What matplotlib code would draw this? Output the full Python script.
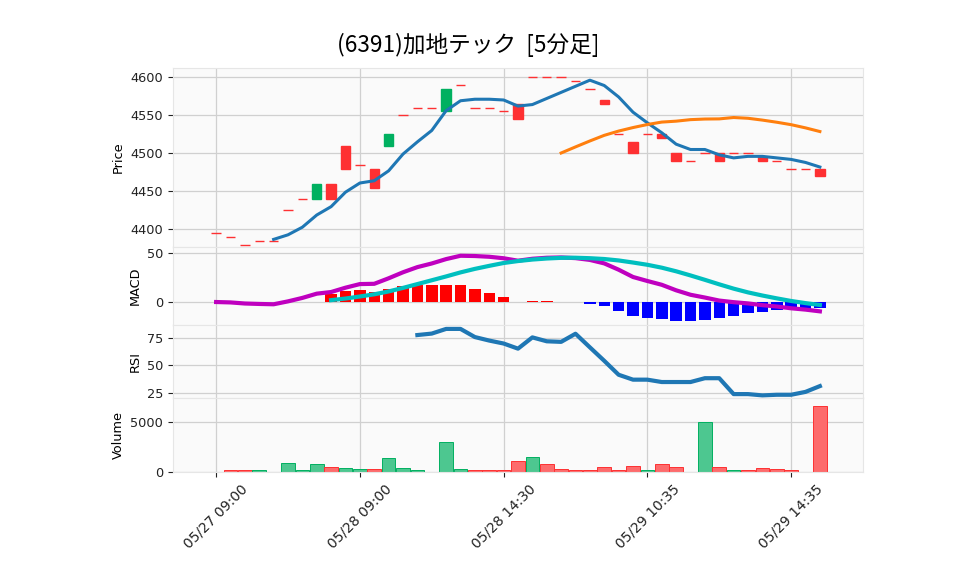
import matplotlib
matplotlib.use("Agg")
import matplotlib.pyplot as plt
import numpy as np
import pandas as pd

plt.rcParams['font.family'] = ['DejaVu Sans', 'Noto Sans CJK JP']

title = "(6391)加地テック  [5分足]"
opens = [4395, 4390, 4380, 4385, 4385, 4425, 4440, 4440, 4460, 4510,
         4485, 4480, 4510, 4550, 4560, 4560, 4555, 4590, 4560, 4560,
         4555, 4565, 4600, 4600, 4600, 4595, 4585, 4570, 4525, 4515,
         4525, 4525, 4500, 4490, 4500, 4500, 4500, 4500, 4495, 4490,
         4480, 4480, 4480]
closes = [4395, 4390, 4380, 4385, 4385, 4425, 4440, 4460, 4440, 4480,
          4485, 4455, 4525, 4550, 4560, 4560, 4585, 4590, 4560, 4560,
          4555, 4545, 4600, 4600, 4600, 4595, 4585, 4565, 4525, 4500,
          4525, 4520, 4490, 4490, 4500, 4490, 4500, 4500, 4490, 4490,
          4480, 4480, 4470]
volumes = [0, 200, 200, 200, 0, 900, 200, 800, 500, 400,
           300, 300, 1400, 400, 200, 0, 3000, 300, 200, 200,
           200, 1100, 1500, 800, 300, 200, 200, 500, 200, 600,
           200, 800, 500, 0, 4950, 500, 200, 200, 400, 300,
           200, 0, 6600]
tick_pos = [0, 10, 20, 30, 40]
tick_labels = ["05/27 09:00", "05/28 09:00", "05/28 14:30", "05/29 10:35", "05/29 14:35"]

close_s = pd.Series(closes, dtype=float)
x = np.arange(len(closes))
mav5 = close_s.rolling(5).mean()
mav25 = close_s.rolling(25).mean()
ema12 = close_s.ewm(span=12, adjust=False).mean()
ema26 = close_s.ewm(span=26, adjust=False).mean()
macd = ema12 - ema26
signal = macd.rolling(9).mean()
hist = macd - signal
diff = close_s.diff()
gain = diff.clip(lower=0).rolling(14).mean()
loss = (-diff.clip(upper=0)).rolling(14).mean()
rsi = 100 * gain / (gain + loss)

UP, DOWN = '#00b060', '#fe3032'
VUP, VDOWN = '#4dc790', '#fd6b6c'
BG = '#fafafa'
GRID = '#d0d0d0'
FS = 9.3

fig = plt.figure(figsize=(9.58, 5.75), dpi=100)
W, H = 958, 575
L, R = 173, 863

def mkax(top, bot):
    return fig.add_axes([L / W, 1 - bot / H, (R - L) / W, (bot - top) / H])

ax_p = mkax(68, 247)
ax_m = mkax(247, 325)
ax_r = mkax(325, 398)
ax_v = mkax(398, 472)

for ax in (ax_p, ax_m, ax_r, ax_v):
    ax.set_facecolor(BG)
    for s in ax.spines.values():
        s.set_color('#e6e6e6')
        s.set_linewidth(0.8)
    ax.grid(True, color=GRID, linewidth=0.9)
    ax.set_axisbelow(True)
    ax.set_xlim(-3, 45)
    ax.set_xticks(tick_pos)
    ax.tick_params(axis='both', labelsize=FS, length=3.5, width=0.8, colors='#222222')
    ax.tick_params(axis='x', length=0)
    ax.set_xticklabels([])

# candles
o = np.array(opens, float)
c = np.array(closes, float)
ccol = [UP if oo < cc else DOWN for oo, cc in zip(o, c)]
ax_p.bar(x, c - o, bottom=o, width=0.65, color=ccol, edgecolor=ccol, linewidth=1.0, zorder=3)
ax_p.plot(x, mav5, color='#1f77b4', linewidth=2.2, zorder=4)
ax_p.plot(x, mav25, color='#ff7f0e', linewidth=2.2, zorder=4)
ax_p.set_ylim(4377, 4612)
ax_p.set_yticks([4400, 4450, 4500, 4550, 4600])
ax_p.set_ylabel('Price', fontsize=FS)

# MACD
hcol = ['red' if h >= 0 else 'blue' for h in hist.fillna(0)]
ax_m.bar(x, hist, width=0.8, color=hcol, zorder=2)
ax_m.plot(x, macd, color='#bf00bf', linewidth=3.0, zorder=3)
ax_m.plot(x, signal, color='#00bfbf', linewidth=3.0, zorder=4)
ax_m.set_ylim(-23.3, 55.8)
ax_m.set_yticks([0, 50])
ax_m.set_ylabel('MACD', fontsize=FS)

# RSI
ax_r.plot(x, rsi, color='#1f77b4', linewidth=3.0)
ax_r.set_ylim(20.1, 87.2)
ax_r.set_yticks([25, 50, 75])
ax_r.set_ylabel('RSI', fontsize=FS)

# Volume
vcol = [VUP if (i > 0 and closes[i - 1] < closes[i]) else VDOWN for i in range(len(closes))]
vedge = [UP if col == VUP else DOWN for col in vcol]
ax_v.bar(x, volumes, width=0.95, color=vcol, edgecolor=vedge, linewidth=0.7, zorder=2)
ax_v.set_ylim(0, 7370)
ax_v.set_yticks([0, 5000])
ax_v.set_ylabel('Volume', fontsize=FS)
ax_v.tick_params(axis='x', length=3.5)
ax_v.set_xticklabels(tick_labels, rotation=45, ha='center', fontsize=10)

fig.text(468 / W, 1 - 45 / H, title, ha='center', va='center', fontsize=16.3,
         family=['Noto Sans CJK JP', 'DejaVu Sans'])

fig.savefig('out.png', dpi=100, facecolor='white')
